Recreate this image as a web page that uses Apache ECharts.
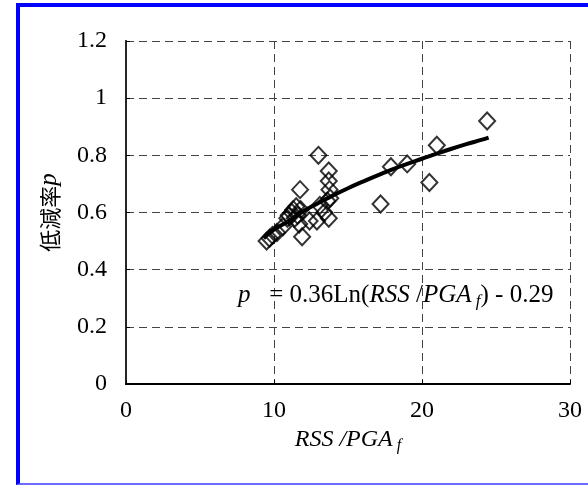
<!DOCTYPE html>
<html><head><meta charset="utf-8">
<script src="https://cdn.jsdelivr.net/npm/echarts@6/dist/echarts.min.js"></script>
<style>
html,body{margin:0;padding:0;background:#fff;}
#c{position:absolute;left:0;top:0;width:588px;height:487px;}
#f{position:absolute;left:16px;top:3px;width:600px;height:482px;border-left:4px solid #0000ff;border-top:4px solid #0000ff;border-bottom:2px solid #6b6bff;box-sizing:border-box;pointer-events:none;}
</style></head>
<body><div id="c"></div><div id="f"></div>
<script>
// observed data (RSS/PGA_f, p)
const obsX = [9.5, 9.7, 9.9, 10.2, 10.6, 10.9, 11.0, 11.2, 11.3, 11.5, 11.4, 11.6, 11.8, 11.7, 11.76, 11.9, 12.4, 12.9, 13.0, 13.1, 13.4, 13.7, 13.7, 13.7, 13.75, 13.8, 13.6, 17.2, 17.9, 19.0, 20.5, 21.0, 24.4];
const obsY = [0.50, 0.51, 0.52, 0.53, 0.55, 0.58, 0.59, 0.60, 0.61, 0.62, 0.58, 0.59, 0.61, 0.56, 0.68, 0.515, 0.57, 0.57, 0.80, 0.625, 0.60, 0.58, 0.745, 0.71, 0.68, 0.65, 0.64, 0.63, 0.76, 0.77, 0.705, 0.835, 0.92];
// fitted trend line
const fitX = [9.3, 10, 11, 12, 13, 14, 15, 16, 17, 18, 19, 20, 21, 22, 23, 24, 24.5];
const fitY = [0.51, 0.54, 0.57, 0.605, 0.633, 0.66, 0.685, 0.708, 0.73, 0.751, 0.77, 0.788, 0.806, 0.823, 0.839, 0.854, 0.862];
const xTicks = [0, 10, 20, 30];
const yTicks = [0, 0.2, 0.4, 0.6, 0.8, 1, 1.2];

const serif = '"Liberation Serif", "Times New Roman", serif';
const chart = echarts.init(document.getElementById('c'));
chart.setOption({
  animation: false,
  grid: {left: 126, right: 18, top: 41, bottom: 103},
  xAxis: {
    type: 'value', min: 0, max: 30, interval: 10,
    axisLine: {show: true, onZero: false, lineStyle: {color: '#000', width: 2}},
    axisTick: {show: true, inside: true, length: 4, lineStyle: {color: '#000'}},
    axisLabel: {color: '#000', fontFamily: serif, fontSize: 24, margin: 15, formatter: v => xTicks.includes(v) ? String(v) : ''},
    splitLine: {show: true, lineStyle: {color: '#444', type: [8, 5], width: 1}},
    name: '{i|RSS}{n| /}{i|PGA}{s| f}',
    nameLocation: 'middle', nameGap: 42,
    nameTextStyle: {rich: {
      i: {fontFamily: serif, fontStyle: 'italic', fontSize: 24, color: '#000'},
      n: {fontFamily: serif, fontStyle: 'italic', fontSize: 24, color: '#000'},
      s: {fontFamily: serif, fontStyle: 'italic', fontSize: 16, color: '#000', padding: [12, 0, 0, 0]}
    }}
  },
  yAxis: [{
    type: 'value', min: 0, max: 1.2, interval: 0.2,
    axisLine: {show: true, onZero: false, lineStyle: {color: '#000', width: 2}},
    axisTick: {show: true, inside: true, length: 4, lineStyle: {color: '#000'}},
    axisLabel: {color: '#000', fontFamily: serif, fontSize: 24, margin: 19, formatter: v => { const t = yTicks.find(k => Math.abs(k - v) < 1e-9); return t === undefined ? '' : String(t); }},
    splitLine: {show: true, lineStyle: {color: '#444', type: [8, 5], width: 1}},
    name: '{c|低減率}{i|p}',
    nameLocation: 'middle', nameGap: 64,
    nameTextStyle: {rich: {
      c: {fontFamily: '"Noto Sans CJK JP", "Noto Sans CJK SC", sans-serif', fontSize: 22, color: '#000'},
      i: {fontFamily: serif, fontStyle: 'italic', fontSize: 25, color: '#000'}
    }}
  }, {
    type: 'value', min: 0, max: 1.2, interval: 0.2, position: 'right',
    axisLine: {show: true, lineStyle: {color: '#333', width: 1.5}},
    axisTick: {show: false}, axisLabel: {show: false}, splitLine: {show: false}
  }],
  series: [{
    type: 'scatter',
    data: obsX.map((x, i) => [x, obsY[i]]),
    symbol: 'diamond', symbolSize: [16, 17],
    itemStyle: {color: 'rgba(255,255,255,0)', borderColor: '#000', borderWidth: 2},
    z: 3
  }, {
    type: 'line',
    data: fitX.map((x, i) => [x, fitY[i]]),
    showSymbol: false, smooth: true,
    lineStyle: {color: '#000', width: 4},
    z: 4
  }],
  graphic: [{
    type: 'text', left: 238, top: 283, z: 10,
    style: {
      text: '{i|p}{n|   = 0.36Ln(}{i|RSS}{n| /}{i|PGA}{s| f}{n|) - 0.29}',
      rich: {
        i: {fontFamily: serif, fontStyle: 'italic', fontSize: 25, fill: '#000'},
        n: {fontFamily: serif, fontSize: 25, fill: '#000'},
        s: {fontFamily: serif, fontStyle: 'italic', fontSize: 17, fill: '#000', padding: [12, 0, 0, 0]}
      }
    }
  }]
});
</script>
</body></html>
